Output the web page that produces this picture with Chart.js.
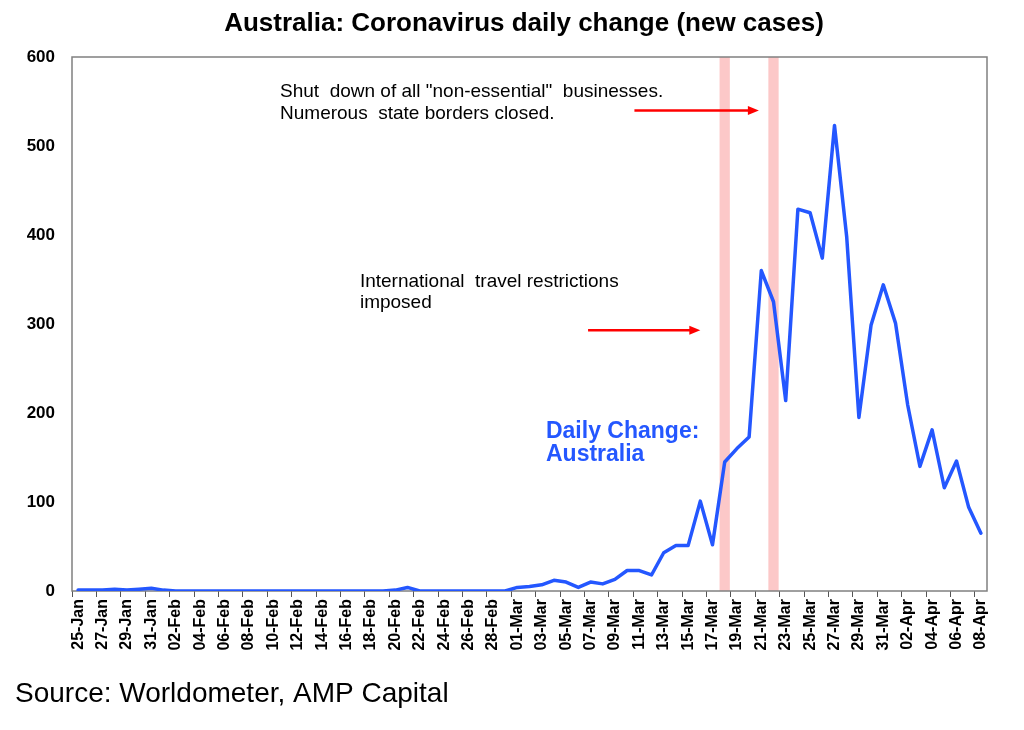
<!DOCTYPE html>
<html>
<head>
<meta charset="utf-8">
<title>Australia: Coronavirus daily change (new cases)</title>
<script src="https://cdn.jsdelivr.net/npm/chart.js@4.4.0/dist/chart.umd.min.js"></script>
<style>
  html, body { margin: 0; padding: 0; background: #fff; }
  #wrap { width: 1024px; height: 730px; }
</style>
</head>
<body>
<div id="wrap"><canvas id="myChart" width="1024" height="730"></canvas></div>
<script>
// dates on the x axis, 25-Jan to 08-Apr 2020
const dates = [
  '25-Jan','26-Jan','27-Jan','28-Jan','29-Jan','30-Jan','31-Jan',
  '01-Feb','02-Feb','03-Feb','04-Feb','05-Feb','06-Feb','07-Feb','08-Feb','09-Feb','10-Feb',
  '11-Feb','12-Feb','13-Feb','14-Feb','15-Feb','16-Feb','17-Feb','18-Feb','19-Feb','20-Feb',
  '21-Feb','22-Feb','23-Feb','24-Feb','25-Feb','26-Feb','27-Feb','28-Feb','29-Feb',
  '01-Mar','02-Mar','03-Mar','04-Mar','05-Mar','06-Mar','07-Mar','08-Mar','09-Mar','10-Mar',
  '11-Mar','12-Mar','13-Mar','14-Mar','15-Mar','16-Mar','17-Mar','18-Mar','19-Mar','20-Mar',
  '21-Mar','22-Mar','23-Mar','24-Mar','25-Mar','26-Mar','27-Mar','28-Mar','29-Mar','30-Mar','31-Mar',
  '01-Apr','02-Apr','03-Apr','04-Apr','05-Apr','06-Apr','07-Apr','08-Apr'
];

// daily new cases
const janCases = [1, 1, 1, 2, 1, 2, 3];
const febCases = [1, 0, 0, 0, 0, 0, 0, 0, 0, 0, 0, 0, 0, 0, 0, 0, 0, 0, 0, 1, 4, 0, 0, 0, 0, 0, 0, 0, 0];
const marCases = [4, 5, 7, 12, 10, 4, 10, 8, 13, 23, 23, 18, 43, 51, 51, 101, 52, 145, 160, 173,
                  360, 325, 214, 429, 425, 374, 523, 398, 195, 299, 344];
const aprCases = [301, 209, 140, 181, 116, 146, 94, 65];
const dailyCases = janCases.concat(febCases, marCases, aprCases);

const yTicks = [0, 100, 200, 300, 400, 500, 600];

// policy events (shaded days)
const bandDates = ['18-Mar', '22-Mar'];

// notes drawn on the chart, placed in axis units (x = day index, y = cases)
const notes = [
  { lines: ['Shut  down of all "non-essential"  businesses.', 'Numerous  state borders closed.'], x: 16.55, y: 555 },
  { lines: ['International  travel restrictions', 'imposed'], x: 23.1, y: 342 }
];
const arrows = [
  { from: 45.6, to: 55.8, y: 540 },
  { from: 41.8, to: 51.0, y: 293 }
];
const seriesNote = { lines: ['Daily Change:', 'Australia'], x: 38.35, y: 172 };

const chartTitle = 'Australia: Coronavirus daily change (new cases)';
const sourceText = 'Source: Worldometer, AMP Capital';

const FONT = "'Liberation Sans', Arial, Helvetica, sans-serif";
const BLUE = '#2457ff';

const extras = {
  id: 'extras',
  beforeDatasetsDraw(chart) {
    const { ctx, chartArea: a, scales: { x } } = chart;
    const w = x.getPixelForValue(1) - x.getPixelForValue(0);
    ctx.save();
    ctx.fillStyle = '#fcc8c8';
    bandDates.forEach(d => {
      const px = x.getPixelForValue(dates.indexOf(d));
      ctx.fillRect(px - w * 0.42, a.top, w * 0.84, a.bottom - a.top);
    });
    ctx.strokeStyle = '#808080';
    ctx.lineWidth = 1.5;
    ctx.strokeRect(a.left, a.top, a.right - a.left, a.bottom - a.top);
    ctx.restore();
  },
  afterDatasetsDraw(chart) {
    const { ctx, scales: { x, y } } = chart;
    ctx.save();
    // red arrows
    ctx.strokeStyle = '#ff0000';
    ctx.fillStyle = '#ff0000';
    ctx.lineWidth = 2.5;
    arrows.forEach(ar => {
      const x1 = x.getPixelForValue(ar.from);
      const x2 = x.getPixelForValue(ar.to);
      const py = y.getPixelForValue(ar.y);
      ctx.beginPath();
      ctx.moveTo(x1, py);
      ctx.lineTo(x2 - 9, py);
      ctx.stroke();
      ctx.beginPath();
      ctx.moveTo(x2, py);
      ctx.lineTo(x2 - 11, py - 4.5);
      ctx.lineTo(x2 - 11, py + 4.5);
      ctx.closePath();
      ctx.fill();
    });
    // black notes
    ctx.fillStyle = '#000';
    ctx.font = '19px ' + FONT;
    ctx.textBaseline = 'alphabetic';
    ctx.textAlign = 'left';
    notes.forEach(n => {
      const px = x.getPixelForValue(n.x);
      const py = y.getPixelForValue(n.y);
      n.lines.forEach((t, i) => ctx.fillText(t, px, py + i * 21.5));
    });
    // series label
    ctx.fillStyle = BLUE;
    ctx.font = 'bold 23px ' + FONT;
    const sx = x.getPixelForValue(seriesNote.x);
    const sy = y.getPixelForValue(seriesNote.y);
    seriesNote.lines.forEach((t, i) => ctx.fillText(t, sx, sy + i * 23));
    ctx.restore();
  },
  afterDraw(chart) {
    const { ctx } = chart;
    ctx.save();
    ctx.fillStyle = '#000';
    ctx.textBaseline = 'alphabetic';
    ctx.textAlign = 'center';
    ctx.font = 'bold 26px ' + FONT;
    ctx.fillText(chartTitle, 524, 31);
    ctx.textAlign = 'left';
    ctx.font = '28px ' + FONT;
    ctx.fillText(sourceText, 15, 702);
    ctx.restore();
  }
};

const data = {
  labels: dates,
  datasets: [{
    label: 'Daily Change: Australia',
    data: dailyCases,
    borderColor: BLUE,
    backgroundColor: BLUE,
    borderWidth: 3.5,
    borderJoinStyle: 'round',
    borderCapStyle: 'round',
    pointRadius: 0,
    tension: 0,
    fill: false
  }]
};

const config = {
  type: 'line',
  data: data,
  options: {
    responsive: false,
    animation: false,
    events: [],
    layout: { padding: { top: 57, left: 0, right: 37, bottom: 0 } },
    plugins: {
      legend: { display: false },
      tooltip: { enabled: false },
      title: { display: false }
    },
    scales: {
      x: {
        type: 'category',
        offset: true,
        border: { display: false },
        grid: {
          display: true,
          offset: true,
          drawOnChartArea: false,
          drawTicks: true,
          tickLength: 6,
          lineWidth: 1,
          color: c => (c.index !== undefined && c.index % 2 === 0) ? '#555' : 'rgba(0,0,0,0)'
        },
        ticks: {
          autoSkip: false,
          minRotation: 90,
          maxRotation: 90,
          padding: 2,
          color: '#000',
          font: { family: FONT, size: 16, weight: 'bold' },
          callback: (val, i) => (i % 2 === 0 ? dates[i] : '')
        },
        afterFit: s => { s.height = 139; }
      },
      y: {
        min: 0,
        max: 600,
        border: { display: false },
        grid: { display: false, drawTicks: false },
        afterBuildTicks: s => { s.ticks = yTicks.map(v => ({ value: v })); },
        ticks: {
          padding: 17,
          color: '#000',
          font: { family: FONT, size: 17, weight: 'bold' }
        },
        afterFit: s => { s.width = 72; }
      }
    }
  },
  plugins: [extras]
};

const myChart = new Chart(document.getElementById('myChart'), config);
</script>
</body>
</html>
